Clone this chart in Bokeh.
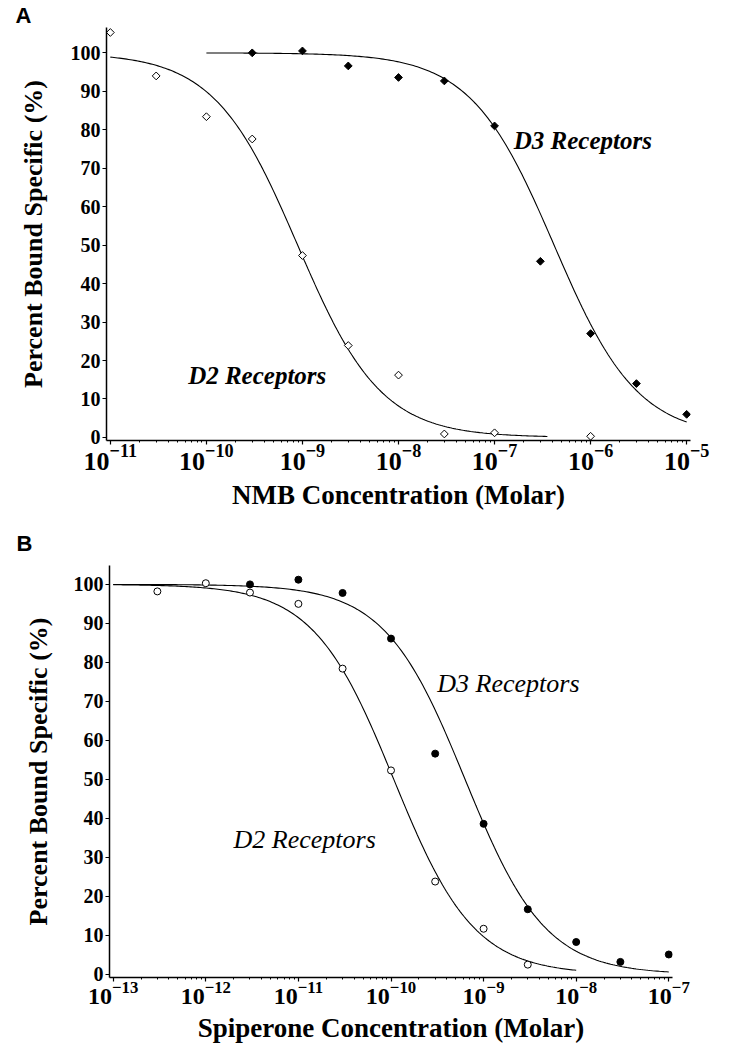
import numpy as np
from bokeh.plotting import figure
from bokeh.models import Range1d, FixedTicker, LogTickFormatter, Label
from bokeh.embed import file_html
from bokeh.resources import INLINE

# ---------------- data ----------------
# Panel A : NMB displacement
a_d2_conc = [1e-11, 3e-11, 1e-10, 3e-10, 1e-9, 3e-9, 1e-8, 3e-8, 1e-7, 1e-6]
a_d2_pct = [105.3, 94.0, 83.4, 77.6, 47.3, 23.9, 16.2, 0.9, 1.2, 0.3]
a_d3_conc = [3e-10, 1e-9, 3e-9, 1e-8, 3e-8, 1e-7, 3e-7, 1e-6, 3e-6, 1e-5]
a_d3_pct = [100.0, 100.5, 96.6, 93.6, 92.7, 81.0, 45.8, 27.0, 14.0, 6.0]
# fitted one-site curves: (log IC50, Hill slope, top, bottom, log x from, log x to)
a_d2_fit = (-9.05, 1.0, 100.0, 0.0, -11.0, -6.45)
a_d3_fit = (-6.38, 1.0, 100.0, 0.0, -10.0, -5.0)
a_decades = [-11, -10, -9, -8, -7, -6, -5]

# Panel B : Spiperone displacement
b_d2_conc = [3e-13, 1e-12, 3e-12, 1e-11, 3e-11, 1e-10, 3e-10, 1e-9, 3e-9]
b_d2_pct = [98.2, 100.3, 97.9, 95.0, 78.4, 52.3, 23.8, 11.7, 2.5]
b_d3_conc = [3e-12, 1e-11, 3e-11, 1e-10, 3e-10, 1e-9, 3e-9, 1e-8, 3e-8, 1e-7]
b_d3_pct = [100.0, 101.2, 97.8, 86.1, 56.6, 38.6, 16.7, 8.3, 3.2, 5.1]
b_d2_fit = (-9.97, 1.0, 100.0, 0.0, -13.0, -8.0)
b_d3_fit = (-9.2, 1.0, 100.0, 0.0, -13.0, -7.0)
b_decades = [-13, -12, -11, -10, -9, -8, -7]

y_ticks = [0, 10, 20, 30, 40, 50, 60, 70, 80, 90, 100]
y_title = "Percent Bound Specific (%)"
a_x_title = "NMB Concentration (Molar)"
b_x_title = "Spiperone Concentration (Molar)"

SERIF = "Liberation Serif"


def fit_curve(params):
    log_ic50, hill, top, bottom, lo, hi = params
    lx = np.linspace(lo, hi, 240)
    y = bottom + (top - bottom) / (1.0 + 10.0 ** ((lx - log_ic50) * hill))
    return 10.0 ** lx, y


def make_panel(letter, decades, height, frame_h, px_per_unit, borders, tick_fs,
               ylab_standoff, xlab_fs, xlab_standoff, x_title, title_offset, title_standoff):
    left, right, top, bottom = borders
    p = figure(width=730, height=height, x_axis_type="log",
               x_range=Range1d(10.0 ** (decades[0] - 0.04), 10.0 ** (decades[-1] + 0.04)),
               y_range=Range1d(-0.8, -0.8 + frame_h / px_per_unit),
               output_backend="svg", toolbar_location=None,
               min_border_left=left, min_border_right=right,
               min_border_top=top, min_border_bottom=bottom,
               title=letter)
    p.outline_line_color = None
    p.grid.visible = False
    p.background_fill_color = "white"
    p.border_fill_color = "white"

    p.title.text_font = "Liberation Sans"
    p.title.text_font_style = "bold"
    p.title.text_font_size = "22px"
    p.title.text_color = "black"
    p.title.align = "left"
    p.title.offset = title_offset
    p.title.standoff = title_standoff

    majors = [10.0 ** k for k in decades]
    minors = [m * 10.0 ** k for k in decades[:-1] for m in range(2, 10)]
    xa = p.xaxis[0]
    xa.ticker = FixedTicker(ticks=majors, minor_ticks=minors)
    xa.formatter = LogTickFormatter()
    xa.major_label_text_font = SERIF
    xa.major_label_text_font_style = "bold"
    xa.major_label_text_font_size = f"{tick_fs}px"
    xa.major_label_text_color = "black"
    xa.major_label_standoff = 0
    xa.major_tick_in = 0
    xa.major_tick_out = 4
    xa.minor_tick_in = 0
    xa.minor_tick_out = 2
    xa.axis_line_width = 1.5
    xa.major_tick_line_width = 1.2
    xa.axis_line_color = "black"
    xa.major_tick_line_color = "black"
    xa.minor_tick_line_color = "black"
    xa.axis_label = x_title
    xa.axis_label_text_font = SERIF
    xa.axis_label_text_font_style = "bold"
    xa.axis_label_text_font_size = f"{xlab_fs}px"
    xa.axis_label_text_color = "black"
    xa.axis_label_standoff = xlab_standoff

    ya = p.yaxis[0]
    ya.ticker = FixedTicker(ticks=y_ticks)
    ya.major_label_text_font = SERIF
    ya.major_label_text_font_style = "bold"
    ya.major_label_text_font_size = "20px"
    ya.major_label_text_color = "black"
    ya.major_label_standoff = 2
    ya.major_tick_in = 0
    ya.major_tick_out = 4
    ya.minor_tick_line_color = None
    ya.axis_line_width = 1.5
    ya.axis_line_color = "black"
    ya.major_tick_line_color = "black"
    ya.axis_label = y_title
    ya.axis_label_text_font = SERIF
    ya.axis_label_text_font_style = "bold"
    ya.axis_label_text_font_size = "26px"
    ya.axis_label_text_color = "black"
    ya.axis_label_standoff = ylab_standoff
    return p


# ---------------- Panel A ----------------
pa = make_panel("A", a_decades, 514, 414, 3.855, (106, 40, 26, 74),
                26, 20, 27, 7, a_x_title, -91, 0)

for fit in (a_d2_fit, a_d3_fit):
    cx, cy = fit_curve(fit)
    pa.line(cx, cy, line_color="black", line_width=1.1)
pa.scatter(a_d2_conc, a_d2_pct, marker="square", angle=np.pi / 4, size=5.5,
           fill_color="white", line_color="black", line_width=1)
pa.scatter(a_d3_conc, a_d3_pct, marker="square", angle=np.pi / 4, size=5.5,
           fill_color="black", line_color="black", line_width=1)

pa.add_layout(Label(x=10 ** -6.80, y=77.3, text="D3 Receptors", text_baseline="alphabetic",
                    text_font=SERIF, text_font_style="bold italic", text_font_size="25px",
                    text_color="black"))
pa.add_layout(Label(x=10 ** -10.19, y=16.2, text="D2 Receptors", text_baseline="alphabetic",
                    text_font=SERIF, text_font_style="bold italic", text_font_size="25px",
                    text_color="black"))

# ---------------- Panel B ----------------
pb = make_panel("B", b_decades, 534, 412, 3.9, (109, 58, 51, 71),
                24, 18, 27, 6, b_x_title, -93, 19)

for fit in (b_d2_fit, b_d3_fit):
    cx, cy = fit_curve(fit)
    pb.line(cx, cy, line_color="black", line_width=1.1)
pb.scatter(b_d2_conc, b_d2_pct, marker="circle", size=7,
           fill_color="white", line_color="black", line_width=1)
pb.scatter(b_d3_conc, b_d3_pct, marker="circle", size=7,
           fill_color="black", line_color="black", line_width=1)

pb.add_layout(Label(x=10 ** -9.50, y=74.5, text="D3 Receptors", text_baseline="alphabetic",
                    text_font=SERIF, text_font_style="italic", text_font_size="26px",
                    text_color="black"))
pb.add_layout(Label(x=10 ** -11.70, y=34.6, text="D2 Receptors", text_baseline="alphabetic",
                    text_font=SERIF, text_font_style="italic", text_font_size="26px",
                    text_color="black"))

open("out.html", "w").write(file_html([pa, pb], INLINE))
